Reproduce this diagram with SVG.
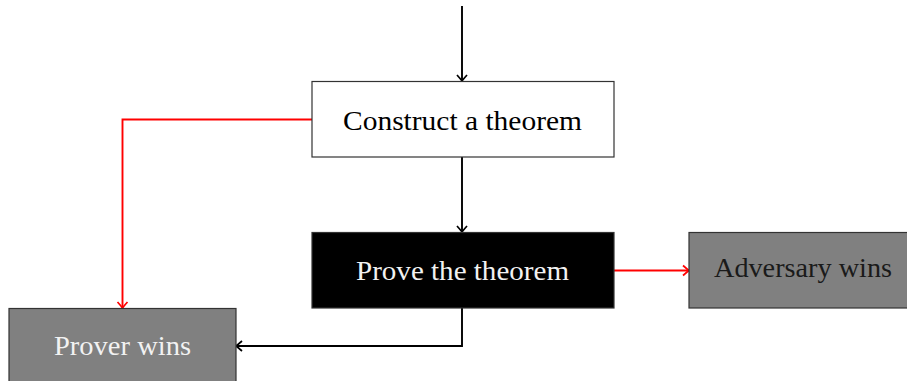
<svg xmlns="http://www.w3.org/2000/svg" width="907" height="381" viewBox="0 0 907 381">
<style>
.box{stroke:#333;stroke-width:1.2}
.t{font-family:"Liberation Serif","Times New Roman",serif;font-size:27px;text-anchor:middle}
.c{fill:none;stroke-width:1.9}
.k{stroke:#000}
.r{stroke:#f00}
</style>
<defs>
<marker id="ak" markerUnits="userSpaceOnUse" markerWidth="14" markerHeight="14" viewBox="-8 -7 10 14" refX="0" refY="0" orient="auto">
<path d="M-6,-5 Q-1.5,-1 0,0 Q-1.5,1 -6,5" fill="none" stroke="#000" stroke-width="1.7"/>
</marker>
<marker id="ar" markerUnits="userSpaceOnUse" markerWidth="14" markerHeight="14" viewBox="-8 -7 10 14" refX="0" refY="0" orient="auto">
<path d="M-6,-5 Q-1.5,-1 0,0 Q-1.5,1 -6,5" fill="none" stroke="#f00" stroke-width="1.7"/>
</marker>
</defs>
<rect width="907" height="381" fill="#fff"/>
<g id="connectors">
<path class="c k" d="M462,6 V81" marker-end="url(#ak)"/>
<path class="c k" d="M462,157 V232" marker-end="url(#ak)"/>
<path class="c r" d="M312,119.5 H122.5 V308" marker-end="url(#ar)"/>
<path class="c r" d="M614,270.5 H689" marker-end="url(#ar)"/>
<path class="c k" d="M462,308 V346 H236" marker-end="url(#ak)"/>
</g>
<g id="construct">
<rect class="box" x="312" y="81.5" width="302" height="75.5" fill="#fff"/>
<text class="t" x="462.5" y="130" fill="#000" textLength="239" lengthAdjust="spacingAndGlyphs">Construct a theorem</text>
</g>
<g id="prove">
<rect class="box" x="312" y="232.5" width="302" height="75.5" fill="#000"/>
<text class="t" x="462.5" y="280" fill="#f2f2f2" textLength="213" lengthAdjust="spacingAndGlyphs">Prove the theorem</text>
</g>
<g id="adversary">
<rect class="box" x="689" y="232.5" width="228" height="75.5" fill="#808080"/>
<text class="t" x="803" y="277" fill="#1a1a1a" textLength="178" lengthAdjust="spacingAndGlyphs">Adversary wins</text>
</g>
<g id="prover">
<rect class="box" x="9" y="308.5" width="227" height="76" fill="#808080"/>
<text class="t" x="122.5" y="355" fill="#f2f2f2" textLength="137" lengthAdjust="spacingAndGlyphs">Prover wins</text>
</g>
</svg>
